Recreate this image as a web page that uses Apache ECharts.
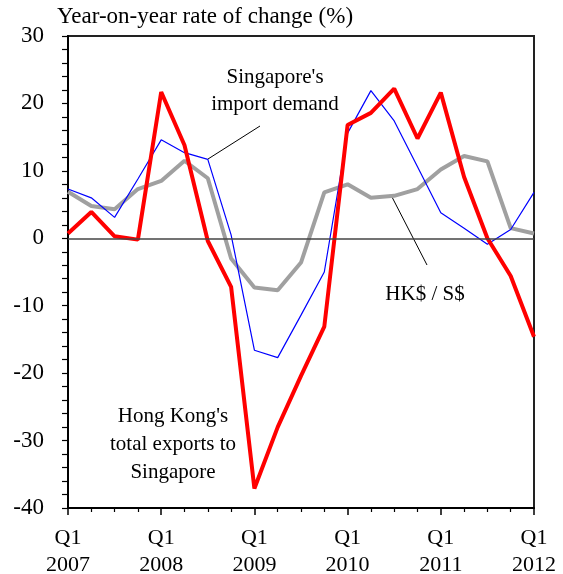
<!DOCTYPE html>
<html>
<head>
<meta charset="utf-8">
<script src="https://cdn.jsdelivr.net/npm/echarts@6/dist/echarts.min.js"></script>
<style>
html,body{margin:0;padding:0;background:#fff;}
#chart{width:563px;height:574px;}
</style>
</head>
<body>
<div id="chart"></div>
<script>
// Quarters Q1 2007 .. Q1 2012
var quarters = ['2007Q1','2007Q2','2007Q3','2007Q4','2008Q1','2008Q2','2008Q3','2008Q4',
  '2009Q1','2009Q2','2009Q3','2009Q4','2010Q1','2010Q2','2010Q3','2010Q4',
  '2011Q1','2011Q2','2011Q3','2011Q4','2012Q1'];
var hkExports = [0.7, 3.9, 0.3, -0.2, 21.7, 13.8, -0.4, -7.2,
  -37.1, -28.0, -20.4, -13.1, 16.8, 18.6, 22.2, 14.8,
  21.6, 9.1, 0.0, -5.6, -14.6];
var sgImportDemand = [7.3, 6.0, 3.1, 8.8, 14.6, 12.7, 11.7, 0.5,
  -16.6, -17.7, -11.4, -5.0, 15.6, 21.9, 17.4, 10.6,
  3.8, 1.5, -0.9, 1.3, 6.8];
var hkdSgd = [6.9, 4.8, 4.3, 7.3, 8.5, 11.5, 8.9, -3.0,
  -7.3, -7.7, -3.6, 6.8, 8.0, 6.0, 6.3, 7.3,
  10.2, 12.2, 11.4, 1.5, 0.7];
var yTicks = [-40, -30, -20, -10, 0, 10, 20, 30];

function pairs(arr){ return arr.map(function(v,i){ return [i, v]; }); }

var FONT = '"Liberation Serif","Times New Roman",serif';
var chart = echarts.init(document.getElementById('chart'), null, {renderer:'canvas'});
chart.setOption({
  animation:false,
  backgroundColor:'#fff',
  grid:{left:68, right:29, top:36, bottom:66, containLabel:false, outerBoundsMode:'none',
    show:true, borderColor:'#222', borderWidth:2, backgroundColor:'transparent'},
  xAxis:{
    type:'value', min:0, max:quarters.length-1, interval:4,
    axisLine:{show:true, onZero:false, lineStyle:{color:'#000', width:2}},
    axisTick:{show:true, length:7, lineStyle:{color:'#000', width:1.5}},
    minorTick:{show:true, splitNumber:4, length:4, lineStyle:{color:'#000', width:1.2}},
    splitLine:{show:false},
    axisLabel:{
      margin:17, color:'#000', fontFamily:FONT, fontSize:22, lineHeight:27,
      formatter:function(v){ var q = quarters[Math.round(v)]; return q ? q.slice(4) + '\n' + q.slice(0,4) : ''; }
    }
  },
  yAxis:{
    type:'value', min:yTicks[0], max:yTicks[yTicks.length-1], interval:10,
    axisLine:{show:true, lineStyle:{color:'#000', width:2}},
    axisTick:{show:true, length:6, lineStyle:{color:'#000', width:1.2}},
    minorTick:{show:true, splitNumber:5, length:6, lineStyle:{color:'#000', width:1.2}},
    splitLine:{show:false},
    axisLabel:{margin:24, color:'#000', fontFamily:FONT, fontSize:23, padding:[5,0,0,0]}
  },
  graphic:[
    {type:'text', left:57, top:5, style:{text:'Year-on-year rate of change (%)', font:'23px '+FONT, fill:'#000'}},
    {type:'text', x:275, y:91, style:{text:"Singapore's\nimport demand", font:'21px '+FONT, fill:'#000', textAlign:'center', textVerticalAlign:'middle', lineHeight:27}},
    {type:'line', shape:{x1:260, y1:126, x2:208, y2:159}, style:{stroke:'#000', lineWidth:1}},
    {type:'text', x:425, y:294, style:{text:'HK$ / S$', font:'21px '+FONT, fill:'#000', textAlign:'center', textVerticalAlign:'middle'}},
    {type:'line', shape:{x1:392, y1:197, x2:427, y2:265}, style:{stroke:'#000', lineWidth:1}},
    {type:'text', x:173, y:444, style:{text:"Hong Kong's\ntotal exports to\nSingapore", font:'21px '+FONT, fill:'#000', textAlign:'center', textVerticalAlign:'middle', lineHeight:28}}
  ],
  series:[
    {type:'line', name:'zero', data:[], z:1, silent:true,
      markLine:{silent:true, symbol:'none', label:{show:false}, lineStyle:{color:'#444', width:1.5, type:'solid'}, data:[{yAxis:0}]}},
    {type:'line', name:"HK$ / S$", data:pairs(hkdSgd), showSymbol:false, symbol:'none', z:2,
      lineStyle:{color:'#a0a0a0', width:4}},
    {type:'line', name:"Singapore's import demand", data:pairs(sgImportDemand), showSymbol:false, symbol:'none', z:3,
      lineStyle:{color:'#0000ff', width:1.2}},
    {type:'line', name:"Hong Kong's total exports to Singapore", data:pairs(hkExports), showSymbol:false, symbol:'none', z:4,
      lineStyle:{color:'#ff0000', width:4}}
  ]
});
</script>
</body>
</html>
